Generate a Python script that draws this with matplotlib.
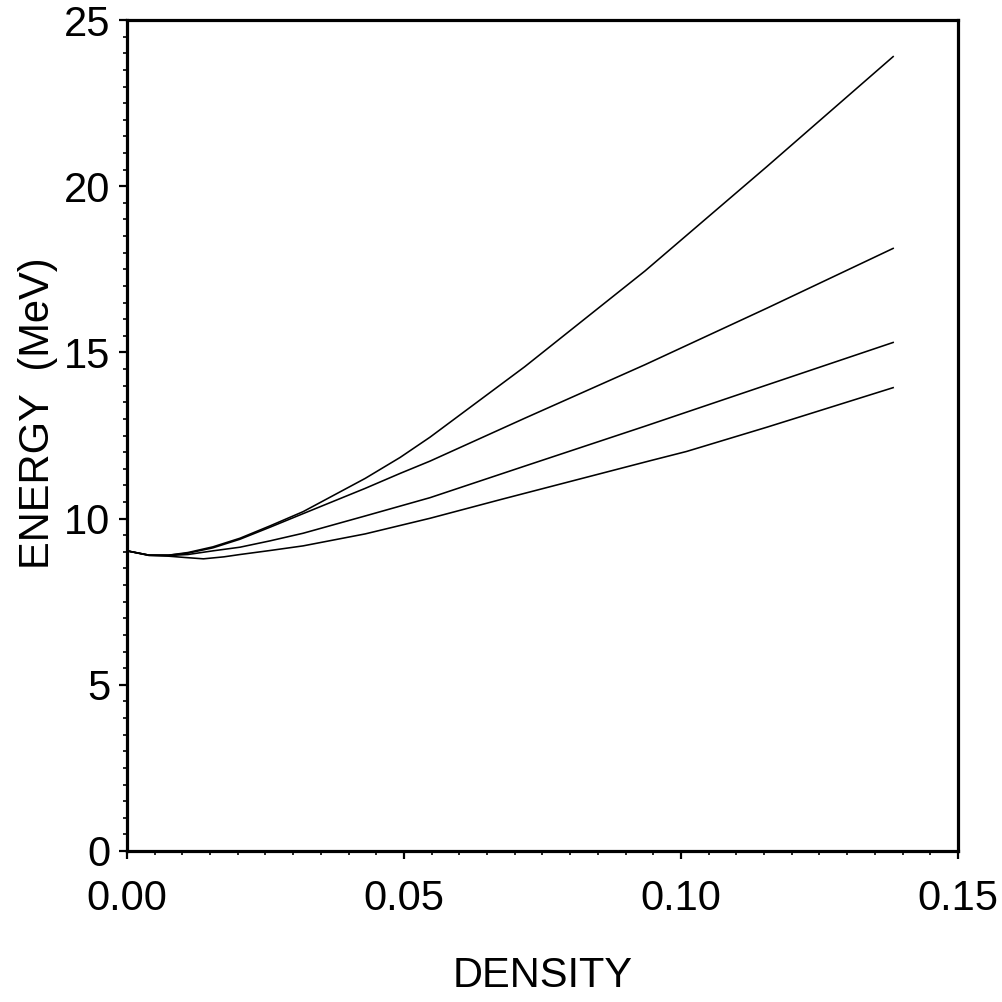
import matplotlib
matplotlib.use("Agg")
import matplotlib.pyplot as plt
from matplotlib.ticker import MultipleLocator, FormatStrFormatter

plt.rcParams['font.family'] = ['Liberation Sans', 'DejaVu Sans']

# Data
x_top = [0.0, 0.004, 0.0075, 0.011, 0.0155, 0.0204, 0.0258, 0.0318, 0.043, 0.0493, 0.0547, 0.0718, 0.0935, 0.1155, 0.1383]
y_top = [9.03, 8.90, 8.90, 8.98, 9.15, 9.41, 9.78, 10.21, 11.21, 11.84, 12.45, 14.57, 17.45, 20.59, 23.90]

x_2 = [0.0, 0.004, 0.0075, 0.011, 0.0155, 0.0204, 0.0258, 0.0318, 0.043, 0.0493, 0.0547, 0.0718, 0.0935, 0.1155, 0.1383]
y_2 = [9.03, 8.90, 8.90, 8.96, 9.12, 9.38, 9.74, 10.15, 10.91, 11.36, 11.73, 13.02, 14.63, 16.33, 18.13]

x_3 = [0.0, 0.004, 0.0075, 0.011, 0.0155, 0.0204, 0.0258, 0.0318, 0.043, 0.0547, 0.0718, 0.0935, 0.1155, 0.1383]
y_3 = [9.03, 8.90, 8.89, 8.92, 9.03, 9.14, 9.33, 9.56, 10.08, 10.63, 11.58, 12.78, 14.02, 15.30]

x_4 = [0.0, 0.004, 0.0075, 0.0105, 0.0138, 0.0175, 0.0204, 0.0258, 0.0318, 0.043, 0.0547, 0.0676, 0.0944, 0.101, 0.1155, 0.1383]
y_4 = [9.03, 8.89, 8.87, 8.83, 8.79, 8.85, 8.92, 9.04, 9.18, 9.54, 10.01, 10.58, 11.74, 12.02, 12.75, 13.94]

series = [(x_top, y_top), (x_2, y_2), (x_3, y_3), (x_4, y_4)]

fig = plt.figure(figsize=(10.03, 10.02), dpi=100)
ax = fig.add_axes([0.1266, 0.1507, 0.8285, 0.8293])

for xs, ys in series:
    ax.plot(xs, ys, color='black', lw=1.15, solid_joinstyle='round')

ax.set_xlim(0, 0.15)
ax.set_ylim(0, 25)
ax.xaxis.set_major_locator(MultipleLocator(0.05))
ax.xaxis.set_minor_locator(MultipleLocator(0.005))
ax.yaxis.set_major_locator(MultipleLocator(5))
ax.yaxis.set_minor_locator(MultipleLocator(0.5))
ax.xaxis.set_major_formatter(FormatStrFormatter('%.2f'))
ax.yaxis.set_major_formatter(FormatStrFormatter('%d'))

for s in ax.spines.values():
    s.set_linewidth(2.3)

ax.tick_params(which='major', direction='out', length=6, width=1.6, labelsize=30, top=False, right=False)
ax.tick_params(which='minor', direction='out', length=3, width=1.2, top=False, right=False)
ax.tick_params(axis='x', which='major', pad=14)
ax.tick_params(axis='y', which='major', pad=6)

ax.set_xlabel('DENSITY', fontsize=30, va='center')
ax.xaxis.set_label_coords(0.5, -0.150)
ax.set_ylabel('ENERGY  (MeV)', fontsize=30, va='center')
ax.yaxis.set_label_coords(-0.107, 0.527)

fig.savefig('out.png', dpi=100)
